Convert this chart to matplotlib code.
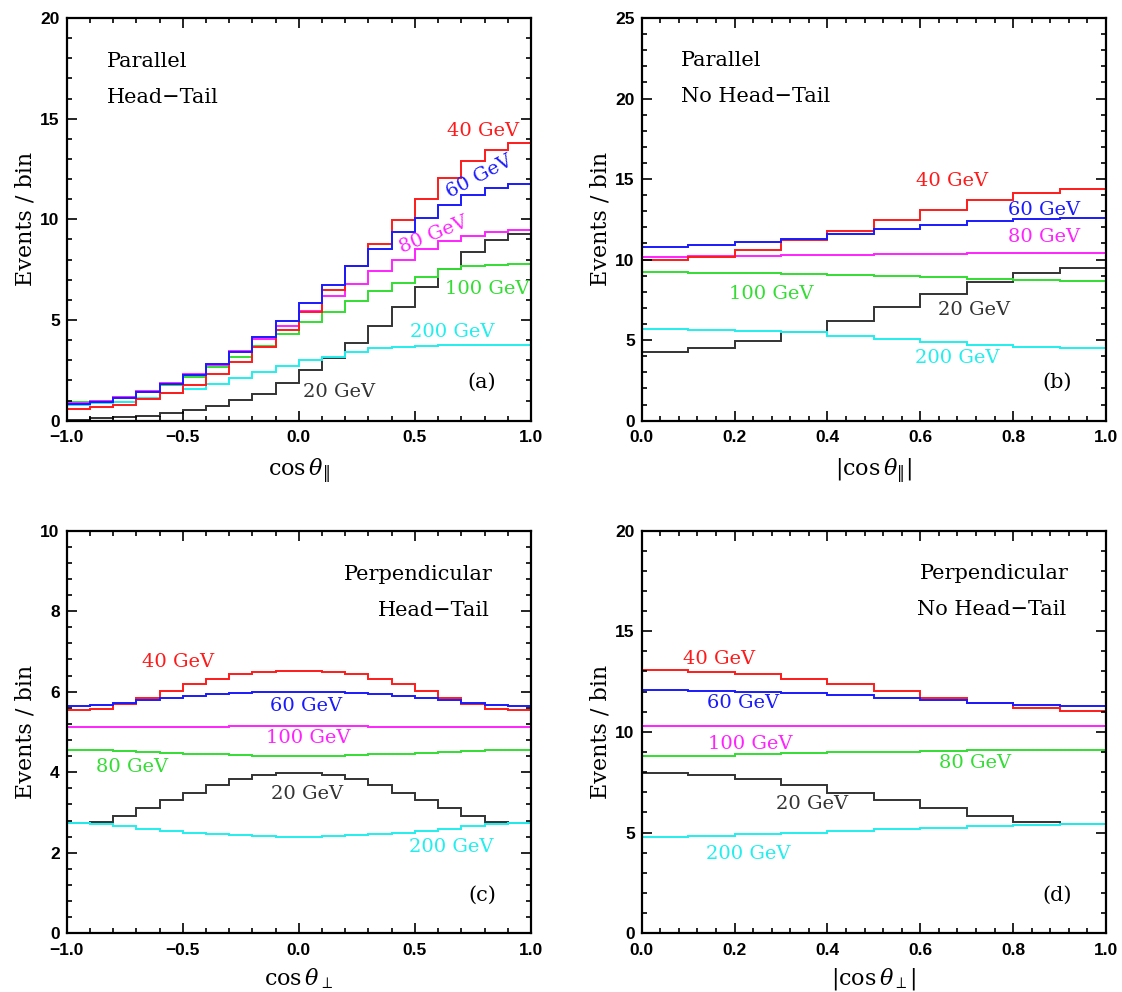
import numpy as np
import matplotlib
matplotlib.use("Agg")
import matplotlib.pyplot as plt
from matplotlib.ticker import MultipleLocator, FuncFormatter

plt.rcParams['font.family'] = 'Liberation Sans'
plt.rcParams['mathtext.fontset'] = 'dejavuserif'

# ==================================================
# DATA (events per bin)
# ==================================================

edges_full = np.linspace(-1.0, 1.0, 21)   # cos theta, 20 bins
edges_abs = np.linspace(0.0, 1.0, 11)     # |cos theta|, 10 bins

# (a) parallel, head-tail
a_20 = [0.05, 0.12, 0.17, 0.23, 0.37, 0.53, 0.73, 1.03, 1.33, 1.86,
        2.52, 3.10, 3.85, 4.71, 5.64, 6.64, 7.53, 8.38, 8.99, 9.29]
a_40 = [0.58, 0.67, 0.80, 1.10, 1.36, 1.78, 2.32, 2.94, 3.68, 4.51,
        5.42, 6.50, 7.66, 8.79, 9.99, 11.03, 12.06, 12.89, 13.43, 13.77]
a_60 = [0.83, 0.95, 1.14, 1.42, 1.82, 2.27, 2.80, 3.43, 4.18, 4.96,
        5.84, 6.72, 7.66, 8.53, 9.35, 10.07, 10.73, 11.19, 11.56, 11.73]
a_80 = [0.88, 0.97, 1.17, 1.46, 1.85, 2.30, 2.78, 3.45, 4.05, 4.71,
        5.46, 6.17, 6.80, 7.45, 8.00, 8.53, 8.91, 9.19, 9.35, 9.49]
a_100 = [0.93, 1.00, 1.17, 1.44, 1.78, 2.19, 2.66, 3.18, 3.70, 4.31,
         4.88, 5.42, 5.96, 6.42, 6.83, 7.16, 7.53, 7.66, 7.73, 7.76]
a_200 = [0.78, 0.87, 0.95, 1.12, 1.36, 1.56, 1.83, 2.11, 2.44, 2.72,
         3.02, 3.18, 3.43, 3.60, 3.68, 3.72, 3.75, 3.76, 3.76, 3.77]

# (b) parallel, no head-tail
b_20 = [4.29, 4.50, 4.92, 5.50, 6.20, 7.03, 7.88, 8.61, 9.17, 9.48]
b_40 = [10.00, 10.17, 10.58, 11.20, 11.76, 12.45, 13.11, 13.69, 14.15, 14.40]
b_60 = [10.79, 10.93, 11.10, 11.31, 11.62, 11.91, 12.14, 12.39, 12.55, 12.59]
b_80 = [10.17, 10.20, 10.25, 10.29, 10.31, 10.35, 10.37, 10.39, 10.39, 10.41]
b_100 = [9.21, 9.19, 9.17, 9.13, 9.07, 8.98, 8.90, 8.82, 8.76, 8.69]
b_200 = [5.71, 5.64, 5.54, 5.50, 5.27, 5.06, 4.88, 4.71, 4.56, 4.50]

# (c) perpendicular, head-tail
c_20 = [2.73, 2.77, 2.91, 3.10, 3.31, 3.49, 3.68, 3.82, 3.93, 3.97,
        3.97, 3.93, 3.82, 3.68, 3.49, 3.31, 3.10, 2.91, 2.77, 2.73]
c_40 = [5.54, 5.58, 5.70, 5.83, 6.02, 6.18, 6.32, 6.43, 6.49, 6.52,
        6.52, 6.49, 6.43, 6.32, 6.18, 6.02, 5.83, 5.70, 5.58, 5.54]
c_60 = [5.64, 5.66, 5.72, 5.79, 5.84, 5.89, 5.93, 5.97, 5.98, 5.99,
        5.99, 5.98, 5.97, 5.93, 5.89, 5.84, 5.79, 5.72, 5.66, 5.64]
c_80 = [4.56, 4.55, 4.53, 4.50, 4.48, 4.45, 4.44, 4.42, 4.41, 4.40,
        4.40, 4.41, 4.42, 4.44, 4.45, 4.48, 4.50, 4.53, 4.55, 4.56]
c_100 = [5.11, 5.11, 5.12, 5.12, 5.13, 5.13, 5.13, 5.14, 5.14, 5.14,
         5.14, 5.14, 5.14, 5.13, 5.13, 5.13, 5.12, 5.12, 5.11, 5.11]
c_200 = [2.73, 2.71, 2.66, 2.60, 2.55, 2.50, 2.46, 2.43, 2.41, 2.40,
         2.40, 2.41, 2.43, 2.46, 2.50, 2.55, 2.60, 2.66, 2.71, 2.73]

# (d) perpendicular, no head-tail
d_20 = [7.97, 7.85, 7.64, 7.36, 6.99, 6.61, 6.20, 5.83, 5.54, 5.42]
d_40 = [13.06, 12.98, 12.86, 12.64, 12.36, 12.03, 11.70, 11.44, 11.21, 11.04]
d_60 = [12.07, 12.03, 11.98, 11.93, 11.82, 11.70, 11.57, 11.44, 11.36, 11.29]
d_80 = [8.79, 8.82, 8.88, 8.93, 8.98, 9.02, 9.06, 9.09, 9.12, 9.12]
d_100 = [10.31, 10.31, 10.30, 10.30, 10.30, 10.30, 10.30, 10.30, 10.29, 10.29]
d_200 = [4.79, 4.84, 4.91, 4.99, 5.07, 5.16, 5.24, 5.32, 5.37, 5.42]

RED = '#ff1a1a'
BLUE = '#1a1aff'
MAGENTA = '#ff22ff'
GREEN = '#33dd33'
CYAN = '#22eeee'
BLACK = '#333333'

SERIF = 'DejaVu Serif'


def minus_fmt(fmt):
    return FuncFormatter(lambda v, pos: (fmt % v).replace('-', '\u2212'))


# ==================================================
# FIGURE
# ==================================================

fig = plt.figure(figsize=(11.22, 9.92), dpi=100)

col_left = [0.0594, 0.5719]
row_bottom = [0.5759, 0.0592]
ax_w = 0.4138
ax_h = 0.4060

panels = [
    {
        'pos': (col_left[0], row_bottom[0]),
        'edges': edges_full,
        'xlim': (-1.0, 1.0), 'ylim': (0, 20),
        'xmaj': 0.5, 'xmin': 0.1, 'ymaj': 5, 'ymin': 1,
        'xlabel': r'$\cos\theta_{\Vert}$', 'xlab_y': -0.09,
        'lines': [(a_20, BLACK), (a_200, CYAN), (a_100, GREEN),
                  (a_80, MAGENTA), (a_40, RED), (a_60, BLUE)],
        'title': [('Parallel', 0.086, 0.893, 'left'),
                  ('Head\u2212Tail', 0.086, 0.803, 'left')],
        'labels': [('40 GeV', 0.897, 0.720, RED, 0),
                   ('60 GeV', 0.890, 0.607, BLUE, 28),
                   ('80 GeV', 0.790, 0.462, MAGENTA, 22),
                   ('100 GeV', 0.905, 0.327, GREEN, 0),
                   ('200 GeV', 0.831, 0.221, CYAN, 0),
                   ('20 GeV', 0.587, 0.071, BLACK, 0)],
        'tag': '(a)',
    },
    {
        'pos': (col_left[1], row_bottom[0]),
        'edges': edges_abs,
        'xlim': (0.0, 1.0), 'ylim': (0, 25),
        'xmaj': 0.2, 'xmin': 0.04, 'ymaj': 5, 'ymin': 1,
        'xlabel': r'$|\cos\theta_{\Vert}|$', 'xlab_y': -0.09,
        'lines': [(b_20, BLACK), (b_200, CYAN), (b_100, GREEN),
                  (b_80, MAGENTA), (b_40, RED), (b_60, BLUE)],
        'title': [('Parallel', 0.085, 0.894, 'left'),
                  ('No Head\u2212Tail', 0.085, 0.804, 'left')],
        'labels': [('40 GeV', 0.668, 0.595, RED, 0),
                   ('60 GeV', 0.866, 0.524, BLUE, 0),
                   ('80 GeV', 0.866, 0.457, MAGENTA, 0),
                   ('100 GeV', 0.280, 0.315, GREEN, 0),
                   ('20 GeV', 0.716, 0.276, BLACK, 0),
                   ('200 GeV', 0.680, 0.155, CYAN, 0)],
        'tag': '(b)',
    },
    {
        'pos': (col_left[0], row_bottom[1]),
        'edges': edges_full,
        'xlim': (-1.0, 1.0), 'ylim': (0, 10),
        'xmaj': 0.5, 'xmin': 0.1, 'ymaj': 2, 'ymin': 0.4,
        'xlabel': r'$\cos\theta_{\perp}$', 'xlab_y': -0.082,
        'lines': [(c_20, BLACK), (c_200, CYAN), (c_80, GREEN),
                  (c_100, MAGENTA), (c_40, RED), (c_60, BLUE)],
        'title': [('Perpendicular', 0.918, 0.891, 'right'),
                  ('Head\u2212Tail', 0.912, 0.802, 'right')],
        'labels': [('40 GeV', 0.240, 0.673, RED, 0),
                   ('60 GeV', 0.515, 0.564, BLUE, 0),
                   ('100 GeV', 0.520, 0.484, MAGENTA, 0),
                   ('80 GeV', 0.140, 0.413, GREEN, 0),
                   ('20 GeV', 0.517, 0.345, BLACK, 0),
                   ('200 GeV', 0.829, 0.215, CYAN, 0)],
        'tag': '(c)',
    },
    {
        'pos': (col_left[1], row_bottom[1]),
        'edges': edges_abs,
        'xlim': (0.0, 1.0), 'ylim': (0, 20),
        'xmaj': 0.2, 'xmin': 0.04, 'ymaj': 5, 'ymin': 1,
        'xlabel': r'$|\cos\theta_{\perp}|$', 'xlab_y': -0.082,
        'lines': [(d_20, BLACK), (d_200, CYAN), (d_80, GREEN),
                  (d_100, MAGENTA), (d_40, RED), (d_60, BLUE)],
        'title': [('Perpendicular', 0.919, 0.893, 'right'),
                  ('No Head\u2212Tail', 0.915, 0.803, 'right')],
        'labels': [('40 GeV', 0.167, 0.682, RED, 0),
                   ('60 GeV', 0.218, 0.572, BLUE, 0),
                   ('100 GeV', 0.233, 0.471, MAGENTA, 0),
                   ('80 GeV', 0.718, 0.422, GREEN, 0),
                   ('20 GeV', 0.368, 0.322, BLACK, 0),
                   ('200 GeV', 0.230, 0.197, CYAN, 0)],
        'tag': '(d)',
    },
]

for p in panels:
    ax = fig.add_axes([p['pos'][0], p['pos'][1], ax_w, ax_h])

    for values, color in p['lines']:
        ax.stairs(values, p['edges'], color=color, linewidth=1.4)

    ax.set_xlim(*p['xlim'])
    ax.set_ylim(*p['ylim'])

    ax.xaxis.set_major_locator(MultipleLocator(p['xmaj']))
    ax.xaxis.set_minor_locator(MultipleLocator(p['xmin']))
    ax.yaxis.set_major_locator(MultipleLocator(p['ymaj']))
    ax.yaxis.set_minor_locator(MultipleLocator(p['ymin']))
    ax.xaxis.set_major_formatter(minus_fmt('%.1f'))
    ax.yaxis.set_major_formatter(minus_fmt('%d'))

    ax.tick_params(which='both', direction='in', top=True, right=True,
                   labelsize=12.5, width=1.2)
    ax.tick_params(which='major', length=7.5)
    ax.tick_params(which='minor', length=3.8)
    ax.tick_params(axis='x', pad=7)
    ax.tick_params(axis='y', pad=5)
    for lbl in ax.get_xticklabels() + ax.get_yticklabels():
        lbl.set_fontweight('bold')

    for s in ax.spines.values():
        s.set_linewidth(1.6)

    ax.set_ylabel('Events / bin', fontsize=16, family=SERIF)
    ax.yaxis.set_label_coords(-0.064, 0.5)
    ax.set_xlabel(p['xlabel'], fontsize=16)
    ax.xaxis.set_label_coords(0.5, p['xlab_y'])
    ax.xaxis.label.set_verticalalignment('top')

    for txt, x, y, ha in p['title']:
        ax.text(x, y, txt, transform=ax.transAxes, ha=ha, va='center',
                fontsize=15, family=SERIF)

    for txt, x, y, color, rot in p['labels']:
        ax.text(x, y, txt, transform=ax.transAxes, ha='center', va='center',
                fontsize=14, family=SERIF, color=color,
                rotation=rot, rotation_mode='anchor')

    ax.text(0.895, 0.095, p['tag'], transform=ax.transAxes, ha='center',
            va='center', fontsize=15, family=SERIF)

fig.savefig('out.png', dpi=100)
